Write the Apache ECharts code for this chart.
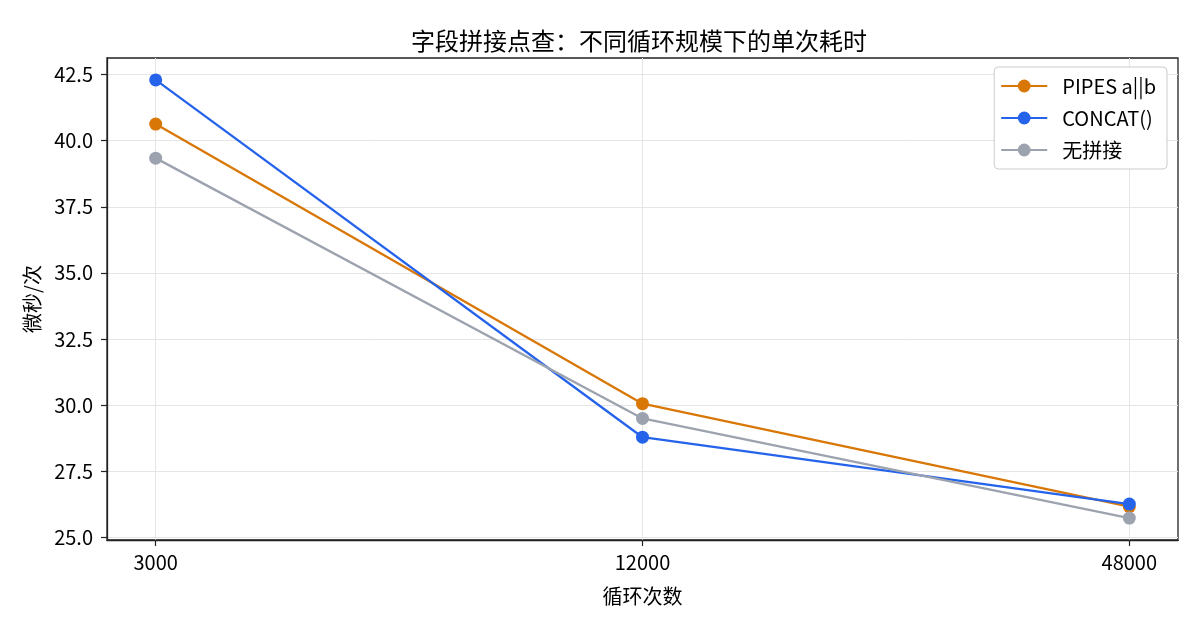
<!DOCTYPE html>
<html><head><meta charset="utf-8">
<script src="https://cdn.jsdelivr.net/npm/echarts@6/dist/echarts.min.js"></script>
<style>html,body{margin:0;padding:0;background:#fff}#c{width:1200px;height:630px}</style>
</head><body><div id="c"></div>
<script>
var loopCounts = ['3000', '12000', '48000'];
var pipesValues = [40.63, 30.05, 26.15];
var concatValues = [42.30, 28.78, 26.25];
var noConcatValues = [39.34, 29.49, 25.72];
var yTicks = [25.0, 27.5, 30.0, 32.5, 35.0, 37.5, 40.0, 42.5];

var FONT = '"Noto Sans CJK SC", "Noto Sans", sans-serif';
function pts(arr){ return arr.map(function(v,i){ return [i, v]; }); }
function mk(name, data, color){
  return {name:name, type:'line', data:pts(data), symbol:'circle', symbolSize:13,
    lineStyle:{color:color, width:2.3}, itemStyle:{color:color}, z: 3};
}
var allVals = pipesValues.concat(concatValues, noConcatValues);
var dMin = Math.min.apply(null, allVals), dMax = Math.max.apply(null, allVals);
var pad = (dMax - dMin) * 0.05;

var chart = echarts.init(document.getElementById('c'), null, {renderer:'canvas'});
chart.setOption({
  animation:false,
  textStyle:{fontFamily:FONT},
  title:{text:'字段拼接点查：不同循环规模下的单次耗时', left:634, top:24, textAlign:'center',
    textStyle:{fontFamily:FONT, fontSize:24, fontWeight:'normal', color:'#000'}},
  grid:{left:107, right:22, top:58, bottom:90, show:true, borderColor:'#222', borderWidth:1.3, backgroundColor:'transparent'},
  legend:{right:33, top:67, orient:'vertical', itemGap:12, itemWidth:46, itemHeight:16,
    padding:[9,11,9,6], borderColor:'#ccc', borderWidth:1, borderRadius:4, backgroundColor:'#fff',
    textStyle:{fontFamily:FONT, fontSize:20, color:'#000', padding:[0,0,0,10]},
    data:['PIPES a||b','CONCAT()','无拼接']},
  xAxis:{type:'value', min:-0.1, max:2.1, name:'循环次数', nameLocation:'middle', nameGap:46,
    nameTextStyle:{fontFamily:FONT, fontSize:20, color:'#000'},
    axisLine:{show:true, onZero:false, lineStyle:{color:'#222', width:1.3}},
    axisTick:{show:true, inside:false, length:6, customValues:[0,1,2], lineStyle:{color:'#222', width:1.2}},
    axisLabel:{customValues:[0,1,2], fontSize:20, color:'#000', margin:12, fontFamily:FONT,
      formatter:function(v){ return loopCounts[Math.round(v)]; }},
    splitLine:{show:true, lineStyle:{color:'#e5e5e5', width:1}}},
  yAxis:{type:'value', min:dMin - pad, max:dMax + pad, name:'微秒/次', nameLocation:'middle', nameGap:65,
    nameTextStyle:{fontFamily:FONT, fontSize:20, color:'#000'},
    axisLine:{show:true, onZero:false, lineStyle:{color:'#222', width:1.3}},
    axisTick:{show:true, inside:false, length:6, customValues:yTicks, lineStyle:{color:'#222', width:1.2}},
    axisLabel:{customValues:yTicks, fontSize:20, color:'#000', margin:14, fontFamily:FONT,
      formatter:function(v){ return v.toFixed(1); }},
    splitLine:{show:true, lineStyle:{color:'#e5e5e5', width:1}}},
  series:[
    mk('PIPES a||b', pipesValues, '#D97706'),
    mk('CONCAT()', concatValues, '#2563EB'),
    mk('无拼接', noConcatValues, '#9CA3AF')
  ]
});
</script></body></html>
